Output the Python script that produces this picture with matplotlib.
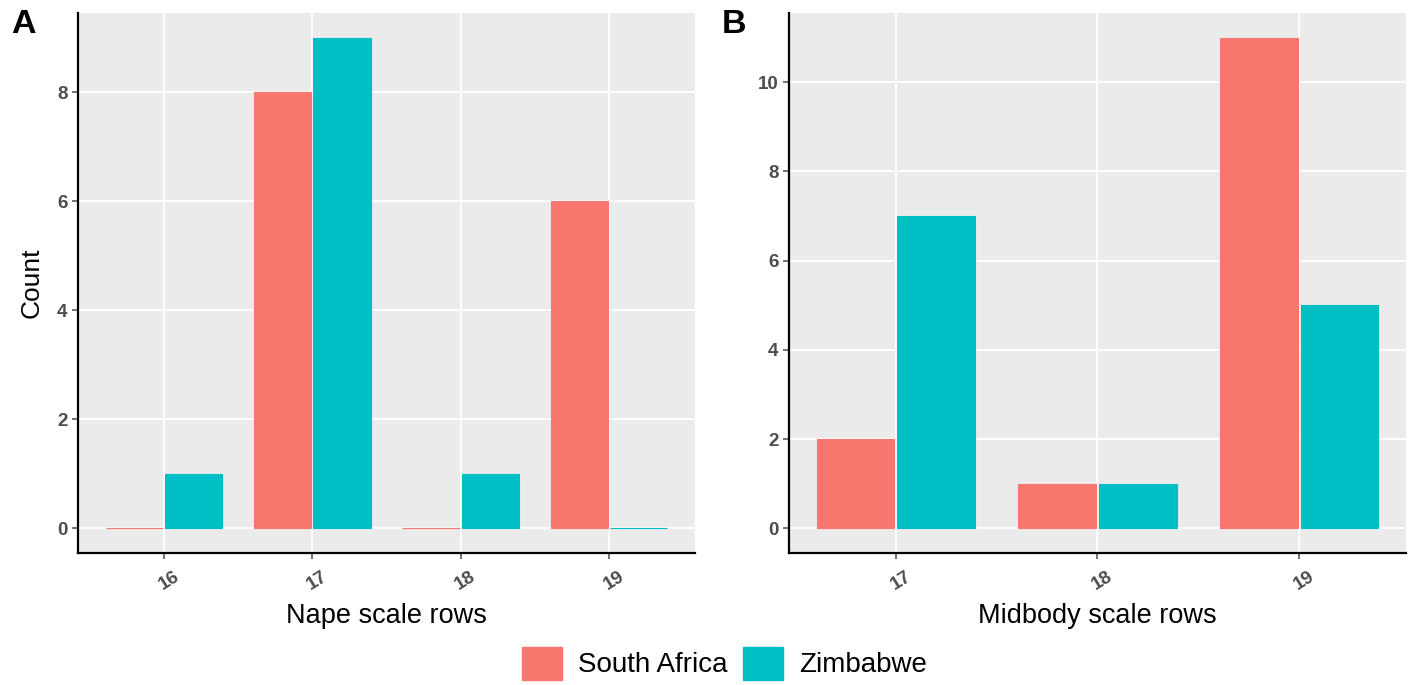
import numpy as np
import matplotlib
matplotlib.use("Agg")
import matplotlib.pyplot as plt
from matplotlib.patches import Patch
from matplotlib.transforms import ScaledTranslation

plt.rcParams['font.family'] = ['Liberation Sans', 'DejaVu Sans']

# Nape scale rows (panel A)
nape_rows = ["16", "17", "18", "19"]
nape_south_africa = [0, 8, 0, 6]
nape_zimbabwe = [1, 9, 1, 0]

# Midbody scale rows (panel B)
mid_rows = ["17", "18", "19"]
mid_south_africa = [2, 1, 11]
mid_zimbabwe = [7, 1, 5]

groups = ["South Africa", "Zimbabwe"]
colors = ["#F8766D", "#00BFC4"]

PANEL_BG = "#EBEBEB"
TICK_GREY = "#4D4D4D"

fig = plt.figure(figsize=(14.16, 6.85), dpi=100)
axA = fig.add_axes([0.0551, 0.1927, 0.4357, 0.7883])
axB = fig.add_axes([0.5572, 0.1927, 0.4357, 0.7883])


def draw_panel(ax, cats, sa, zw, yticks, ylim, xpad, xlabel):
    x = np.arange(len(cats))
    ax.set_facecolor(PANEL_BG)
    for vals, col, off in ((sa, colors[0], -0.2), (zw, colors[1], 0.2)):
        ax.bar(x + off, vals, width=0.385, color=col, edgecolor=col,
               linewidth=0.8, zorder=3)
    ax.set_xticks(x)
    ax.set_xticklabels(cats, rotation=32, ha="center")
    ax.set_yticks(yticks)
    ax.set_xlim(-xpad, len(cats) - 1 + xpad)
    ax.set_ylim(*ylim)
    ax.grid(True, color="white", linewidth=1.4, zorder=0)
    ax.set_axisbelow(True)
    for side in ("top", "right"):
        ax.spines[side].set_visible(False)
    for side in ("left", "bottom"):
        ax.spines[side].set_linewidth(1.6)
        ax.spines[side].set_color("black")
    ax.tick_params(axis="both", colors=TICK_GREY, length=4, width=1.1,
                   labelsize=13.5)
    ax.tick_params(axis="x", pad=5)
    shift = ScaledTranslation(5 / 100, -2 / 100, fig.dpi_scale_trans)
    for lab in ax.get_xticklabels():
        lab.set_transform(lab.get_transform() + shift)
    for lab in ax.get_xticklabels() + ax.get_yticklabels():
        lab.set_fontweight("bold")
        lab.set_color(TICK_GREY)
    ax.set_xlabel(xlabel, fontsize=19.5, labelpad=7)


draw_panel(axA, nape_rows, nape_south_africa, nape_zimbabwe,
           [0, 2, 4, 6, 8], (-0.45, 9.45), 0.58, "Nape scale rows")
draw_panel(axB, mid_rows, mid_south_africa, mid_zimbabwe,
           [0, 2, 4, 6, 8, 10], (-0.55, 11.55), 0.53, "Midbody scale rows")
axA.set_ylabel("Count", fontsize=19, labelpad=10)

fig.text(0.008, 0.964, "A", fontsize=24.5, fontweight="bold", va="center")
fig.text(0.510, 0.964, "B", fontsize=24.5, fontweight="bold", va="center")

handles = [Patch(facecolor=c, edgecolor=c) for c in colors]
fig.legend(handles, groups, loc="center", bbox_to_anchor=(0.5115, 0.032),
           ncol=2, frameon=False, fontsize=20, handlelength=1.45,
           handleheight=1.45, handletextpad=0.58, columnspacing=0.54)

fig.savefig("out.png", dpi=100)
